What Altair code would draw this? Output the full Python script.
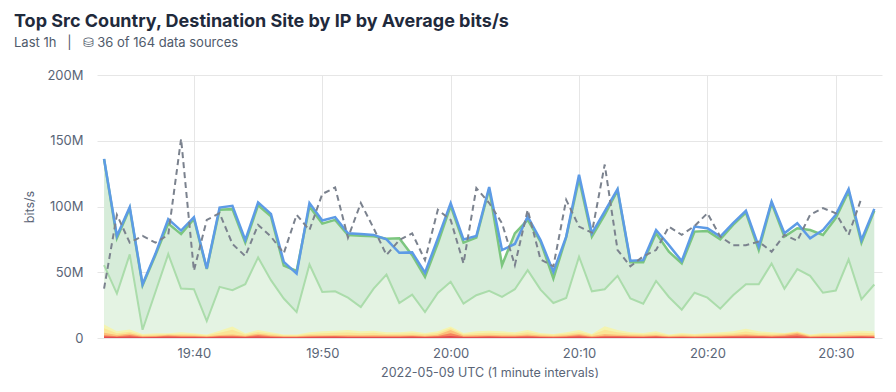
import altair as alt
import pandas as pd

# minute timestamps 19:33 .. 20:33 UTC
minutes = [f"2022-05-09T{19 + (33 + i) // 60:02d}:{(33 + i) % 60:02d}:00Z" for i in range(61)]

# values in Mbit/s
total_blue = [136.2, 77.6, 99.5, 40.9, 64, 90.4, 81.7, 91.9, 52.9, 99.2,
              100.5, 74.5, 103.1, 94.4, 57.9, 49, 102.6, 89.3, 91.9, 79.6,
              79.1, 78.4, 75, 64.8, 65.1, 49.6, 75.8, 102.6, 75, 77.6,
              114.8, 66.9, 71.5, 92.4, 74.5, 50.3, 77.1, 124.2, 79.6, 96.2,
              113.3, 58.7, 59.2, 82.1, 70.6, 58.5, 84.7, 83.5, 77.1, 87.3,
              96.7, 69.4, 103.8, 79.6, 87.3, 75.8, 82.1, 93.7, 113.3, 74.5,
              98.2]
top_green = [136, 76, 98.5, 40, 63, 87, 79, 90.5, 52.5, 97.5,
             98, 72.5, 101, 92.5, 55, 51, 100, 87, 89.8, 78.3,
             77.7, 77.3, 75.5, 75.8, 63, 46.5, 72, 100.5, 72.5, 76.3,
             113.3, 55.4, 79.6, 89.8, 73.3, 45.3, 76.6, 120.9, 77.1, 93.7,
             112.3, 57.6, 57.6, 79.6, 65.6, 56.7, 80.9, 81.4, 75, 86,
             95.4, 66.9, 102.6, 77.1, 83.5, 82.1, 78.4, 91.1, 111.5, 72.5,
             96.7]
mid_green = [55.4, 33.8, 63.6, 6.3, 35, 63.8, 37.6, 37.1, 12.9, 38.9,
             36.3, 40.9, 61.3, 44, 30, 19.7, 55.9, 35, 35.5, 30.7,
             23.5, 37.6, 48.3, 26.6, 33, 19.7, 34.3, 42.7, 26.1, 32.5,
             35.8, 31.2, 37.1, 51.6, 36.8, 26.6, 30.4, 61.8, 35.5, 37.1,
             47.3, 30, 26.1, 43.4, 31.2, 21.5, 34.4, 30.7, 22.3, 32.5,
             40.9, 40.9, 56.7, 37.5, 52.4, 47.3, 34.4, 36.1, 59.7, 29.4,
             40.7]
previous = [37.6, 93.7, 72.5, 77.6, 72.5, 78.4, 151.5, 51.2, 89.8, 94.9,
            71.5, 62.3, 86, 77.1, 64.4, 93.7, 82.1, 109.5, 114.5, 76.3,
            102.6, 83.5, 63.1, 74.5, 79.6, 59.2, 97.5, 89.8, 56.7, 114,
            102.6, 87.3, 55.4, 97.5, 59.7, 54.5, 105.1, 84.7, 80.1, 131.9,
            66.9, 54.5, 62.1, 66.9, 84.7, 78.4, 85.2, 94.9, 77.1, 70.6,
            70.6, 73.3, 65.6, 78.4, 74, 93.7, 98.8, 94.9, 78.4, 106.4,
            None]
small5 = [10.2, 5.1, 6.4, 3.1, 3.6, 3.6, 4.3, 3.6, 2.6, 5.6,
          8.7, 3.6, 6.1, 4.3, 2.6, 2.6, 4.3, 5.1, 5.6, 6.1,
          5.1, 5.6, 4.3, 4.3, 5.1, 3.8, 5.1, 8.7, 3.8, 5.1,
          5.6, 5.1, 4.3, 6.1, 3.8, 3.1, 4.3, 6.1, 3.1, 8.9,
          6.1, 4.3, 3.8, 5.1, 2.6, 3.8, 3.1, 3.8, 4.3, 5.1,
          7.1, 5.1, 4.3, 3.8, 5.1, 2.6, 3.8, 3.8, 5.1, 5.6,
          5.1]
small4 = [7.5, 3.6, 4.8, 2.2, 2.6, 2.9, 3.0, 2.8, 2.0, 4.0,
          6.2, 2.7, 4.6, 3.2, 2.0, 2.0, 3.1, 3.6, 3.9, 4.2,
          3.7, 3.9, 3.1, 3.2, 3.7, 2.8, 3.8, 7.4, 2.9, 3.7,
          4.0, 3.6, 3.2, 4.4, 2.9, 2.4, 3.2, 4.4, 2.4, 6.2,
          4.4, 3.2, 2.9, 3.7, 2.0, 2.9, 2.4, 2.9, 3.2, 3.7,
          5.0, 3.7, 3.2, 3.4, 4.6, 2.0, 2.9, 2.9, 3.6, 3.9,
          3.7]
small3 = [4.0, 2.3, 3.5, 1.5, 1.8, 2.5, 2.0, 1.9, 1.4, 2.3,
          2.7, 1.8, 3.3, 2.1, 1.4, 1.3, 2.0, 2.1, 2.3, 2.2,
          2.1, 2.2, 2.0, 2.0, 2.3, 1.7, 2.5, 6.0, 1.9, 2.2,
          2.4, 2.1, 2.0, 2.6, 1.9, 1.6, 2.0, 3.1, 1.6, 3.0,
          2.5, 2.0, 1.9, 2.3, 1.4, 1.9, 1.6, 1.9, 2.1, 2.4,
          2.9, 2.3, 2.1, 2.7, 4.0, 1.3, 1.9, 1.9, 2.2, 2.3,
          2.2]
small2 = [2.1, 1.4, 2.3, 1.0, 1.2, 1.7, 1.3, 1.3, 1.0, 1.5,
          1.7, 1.2, 2.2, 1.4, 1.0, 0.9, 1.3, 1.4, 1.5, 1.4,
          1.4, 1.4, 1.3, 1.3, 1.5, 1.1, 1.6, 3.6, 1.2, 1.4,
          1.6, 1.4, 1.3, 1.7, 1.2, 1.0, 1.3, 2.0, 1.0, 1.8,
          1.6, 1.3, 1.2, 1.5, 0.9, 1.2, 1.0, 1.2, 1.4, 1.6,
          1.9, 1.5, 1.4, 1.8, 2.9, 0.9, 1.2, 1.2, 1.4, 1.5,
          1.4]
small1 = [1.1, 0.8, 1.2, 0.6, 0.7, 1.0, 0.8, 0.8, 0.6, 0.9,
          1.0, 0.8, 1.2, 0.8, 0.6, 0.6, 0.8, 0.9, 0.9, 0.8,
          0.8, 0.8, 0.8, 0.8, 0.9, 0.7, 0.9, 1.5, 0.7, 0.8,
          0.9, 0.8, 0.8, 1.0, 0.7, 0.6, 0.8, 1.1, 0.6, 1.0,
          0.9, 0.8, 0.7, 0.9, 0.6, 0.7, 0.6, 0.7, 0.8, 0.9,
          1.0, 0.9, 0.8, 1.0, 1.4, 0.5, 0.7, 0.7, 0.8, 0.9,
          0.8]

M = 1e6
def scaled(a):
    return [None if v is None else v * M for v in a]

df = pd.DataFrame({
    "t": minutes,
    "blue": scaled(total_blue),
    "green": scaled(top_green),
    "mid": scaled(mid_green),
    "prev": scaled(previous),
    "s5": scaled(small5),
    "s4": scaled(small4),
    "s3": scaled(small3),
    "s2": scaled(small2),
    "s1": scaled(small1),
})

tick_vals = [alt.DateTime(year=2022, month=5, date=9, hours=h, minutes=m, utc=True)
             for h, m in [(19, 40), (19, 50), (20, 0), (20, 10), (20, 20), (20, 30)]]
x_dom = [alt.DateTime(year=2022, month=5, date=9, hours=19, minutes=32, seconds=27, utc=True),
         alt.DateTime(year=2022, month=5, date=9, hours=20, minutes=33, seconds=36, utc=True)]

def X():
    return alt.X("t:T", scale=alt.Scale(type="utc", domain=x_dom),
                 axis=alt.Axis(values=tick_vals, format="%H:%M",
                               title="2022-05-09 UTC (1 minute intervals)"))

def Y(field):
    return alt.Y(f"{field}:Q", scale=alt.Scale(domain=[0, 2e8]),
                 axis=alt.Axis(values=[0, 5e7, 1e8, 1.5e8, 2e8],
                               labelExpr="datum.value == 0 ? '0' : format(datum.value, '~s')",
                               title="bits/s"))

base = alt.Chart(df)
layers = [
    base.mark_area(color="#d6ecd9", opacity=1).encode(x=X(), y=Y("green")),
    base.mark_area(color="#e4f3e3", opacity=1).encode(x=X(), y=Y("mid")),
    base.mark_area(color="#f4f4b0", opacity=1).encode(x=X(), y=Y("s5")),
    base.mark_area(color="#fbe596", opacity=1).encode(x=X(), y=Y("s4")),
    base.mark_area(color="#fcbf7a", opacity=1).encode(x=X(), y=Y("s3")),
    base.mark_area(color="#f5845c", opacity=1).encode(x=X(), y=Y("s2")),
    base.mark_area(color="#e4494e", opacity=1).encode(x=X(), y=Y("s1")),
    base.mark_line(color="#abdcab", strokeWidth=2).encode(x=X(), y=Y("mid")),
    base.mark_line(color="#7cc67f", strokeWidth=2.5).encode(x=X(), y=Y("green")),
    base.mark_line(color="#5d9be6", strokeWidth=2.5).encode(x=X(), y=Y("blue")),
    base.mark_line(color="#7b828e", strokeWidth=2, strokeDash=[6, 4]).encode(x=X(), y=Y("prev")),
]

NB = "\u00a0"
chart = alt.layer(*layers).properties(
    width=785,
    height=263,
    autosize=alt.AutoSizeParams(type="none"),
    padding={"left": 89, "top": 67, "right": 6, "bottom": 40},
    title=alt.TitleParams(
        text="Top Src Country, Destination Site by IP by Average bits/s",
        subtitle=f"Last 1h{NB*3}|{NB*3}\u26c1 36 of 164 data sources",
        anchor="start", frame="group", dx=-83, offset=19,
        font="Inter", fontSize=18, fontWeight="bold", color="#1f2a3c",
        subtitleFont="Inter", subtitleFontSize=13, subtitleColor="#4f5a6b",
        subtitlePadding=6,
    ),
).configure_axis(
    grid=True, gridColor="#e6e6e6", domain=False, ticks=False,
    labelFont="Inter", labelFontSize=13, labelColor="#5a6577",
    titleFont="Inter", titleFontSize=12.5, titleFontWeight="normal", titleColor="#5a6577",
).configure_axisY(
    labelPadding=14, titlePadding=10,
).configure_axisX(
    labelPadding=9, titlePadding=6,
).configure_view(stroke=None)

chart.save("out.html", embed_options={"renderer": "svg", "actions": False})
